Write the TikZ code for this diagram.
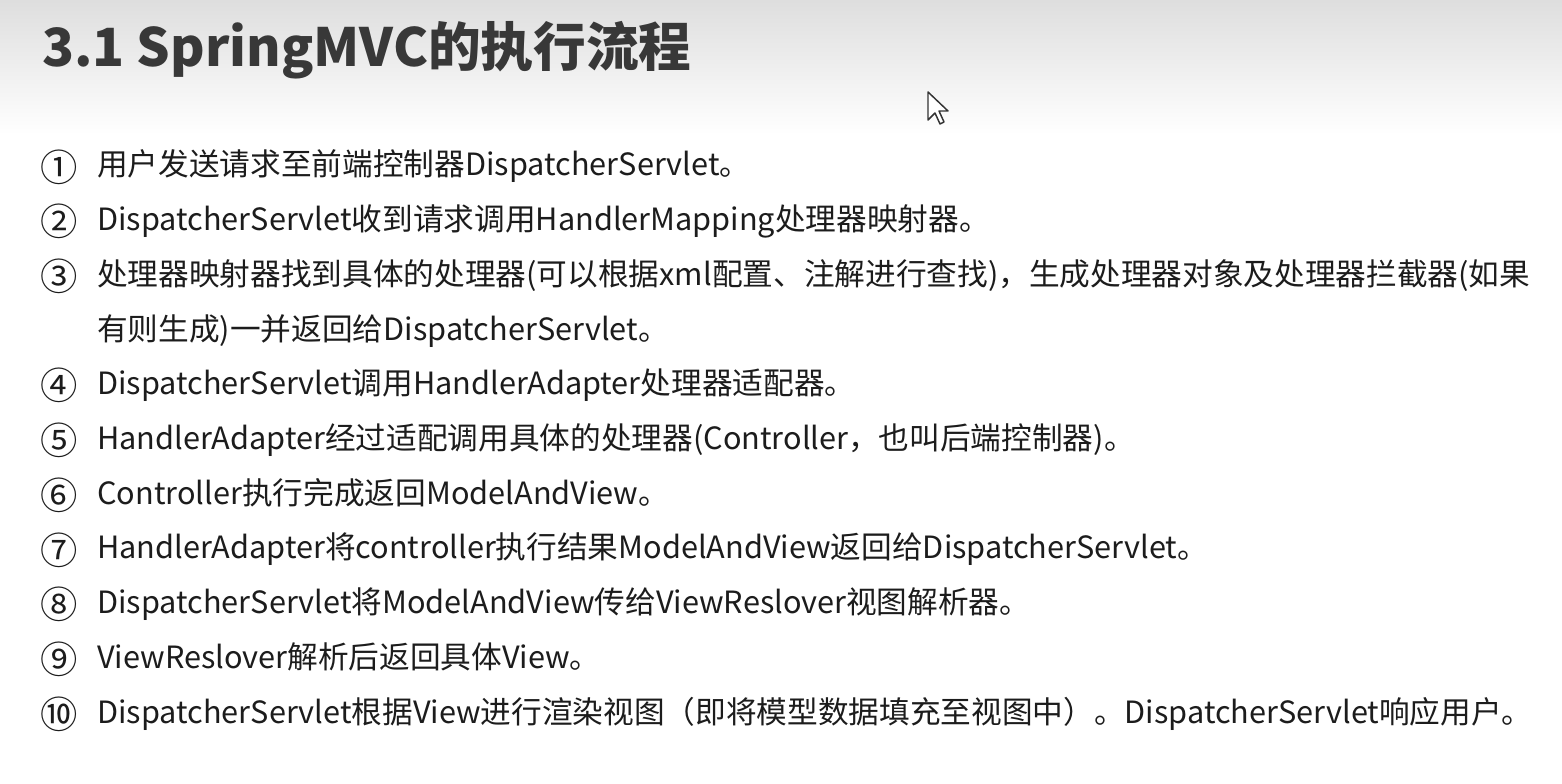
\documentclass[tikz,border=0pt]{standalone}
\usepackage{fontspec}
\setmainfont{Noto Sans CJK SC}
\definecolor{titlegray}{HTML}{383838}
\definecolor{bodyblack}{HTML}{1C1C1C}
\definecolor{bandtop}{HTML}{DEDEDE}
\tikzset{
  titletext/.style={anchor=base west, inner sep=0pt, text=titlegray, font=\fontsize{39.5}{48}\selectfont\bfseries},
  numtext/.style={anchor=center, inner sep=0pt, text=bodyblack, font=\fontsize{28}{32}\selectfont},
  bodytext/.style={anchor=base west, inner sep=0pt, text=bodyblack, font=\fontsize{23}{28}\selectfont},
}
\begin{document}
\begin{tikzpicture}[x=0.75pt,y=-0.75pt]
\useasboundingbox (0,0) rectangle (1562,784);
\fill[white] (0,0) rectangle (1562,784);
\shade[top color=bandtop, bottom color=white] (0,0) rectangle (1562,135);
\node[titletext] (title) at (42,67) {3.1 SpringMVC的执行流程};
% mouse cursor
\filldraw[fill=white, draw=black!80, line width=1.1pt, line join=round]
  (928,92) -- (928,120) -- (935,113) -- (940,124) -- (944,122) -- (939,111) -- (948,111) -- cycle;
% numbers
\foreach \i/\n/\y in {1/①/176, 2/②/230.7, 3/③/285.4, 4/④/394.8, 5/⑤/449.5, 6/⑥/504.2, 7/⑦/558.9, 8/⑧/613.6, 9/⑨/668.3, 10/⑩/723}
  \node[numtext] (num\i) at (59,\y-9) {\n};
\node[bodytext] (l1) at (97,176) {用户发送请求至前端控制器DispatcherServlet。};
\node[bodytext] (l2) at (97,230.7) {DispatcherServlet收到请求调用HandlerMapping处理器映射器。};
\node[bodytext] (l3) at (97,285.4) {处理器映射器找到具体的处理器(可以根据xml配置、注解进行查找)，生成处理器对象及处理器拦截器(如果};
\node[bodytext] (l3b) at (97,340.1) {有则生成)一并返回给DispatcherServlet。};
\node[bodytext] (l4) at (97,394.8) {DispatcherServlet调用HandlerAdapter处理器适配器。};
\node[bodytext] (l5) at (97,449.5) {HandlerAdapter经过适配调用具体的处理器(Controller，也叫后端控制器)。};
\node[bodytext] (l6) at (97,504.2) {Controller执行完成返回ModelAndView。};
\node[bodytext] (l7) at (97,558.9) {HandlerAdapter将controller执行结果ModelAndView返回给DispatcherServlet。};
\node[bodytext] (l8) at (97,613.6) {DispatcherServlet将ModelAndView传给ViewReslover视图解析器。};
\node[bodytext] (l9) at (97,668.3) {ViewReslover解析后返回具体View。};
\node[bodytext] (l10) at (97,723) {DispatcherServlet根据View进行渲染视图（即将模型数据填充至视图中）。DispatcherServlet响应用户。};
\end{tikzpicture}
\end{document}
